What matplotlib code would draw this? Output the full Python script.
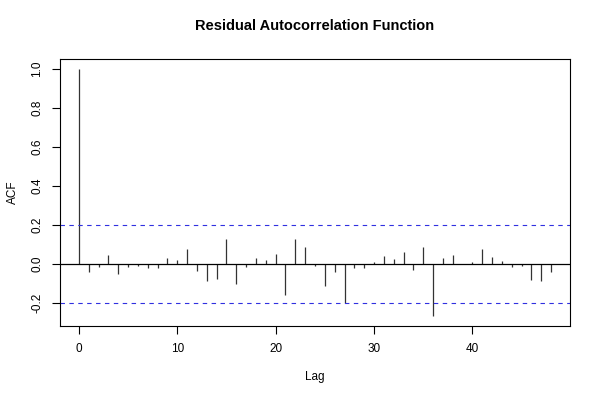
import matplotlib
matplotlib.use("Agg")
import matplotlib.pyplot as plt
import numpy as np

plt.rcParams['font.family'] = ['Liberation Sans', 'DejaVu Sans']

lags = list(range(0, 49))
acf = [1.0, -0.043, -0.015, 0.043, -0.053, -0.015, -0.009, -0.019, -0.021, 0.031,
       0.021, 0.074, -0.038, -0.089, -0.079, 0.125, -0.101, -0.017, 0.031, 0.022,
       0.053, -0.161, 0.125, 0.087, -0.009, -0.115, -0.043, -0.199, -0.019, -0.019,
       0.010, 0.038, 0.026, 0.063, -0.029, 0.089, -0.268, 0.031, 0.046, -0.002,
       0.010, 0.077, 0.033, 0.017, -0.017, -0.009, -0.085, -0.087, -0.043]
conf = 0.2
xticks = [0, 10, 20, 30, 40]
yticks = [-0.2, 0.0, 0.2, 0.4, 0.6, 0.8, 1.0]
title = "Residual Autocorrelation Function"

fig = plt.figure(figsize=(6, 4), dpi=100)
ax = fig.add_axes([0.1, 0.185, 0.85, 0.6675])

ax.vlines(lags, 0, acf, colors='#333333', linewidth=0.9)
ax.axhline(0, color='black', linewidth=0.9)
ax.axhline(conf, color='#3030e0', linestyle=(0, (4, 4)), linewidth=0.8)
ax.axhline(-conf, color='#3030e0', linestyle=(0, (4, 4)), linewidth=0.8)

xr = max(lags) - min(lags)
ax.set_xlim(min(lags) - 0.04 * xr, max(lags) + 0.04 * xr)
yr = max(acf) - min(acf)
ax.set_ylim(min(acf) - 0.04 * yr, max(acf) + 0.04 * yr)

ax.set_xticks(xticks)
ax.set_xticklabels([str(v) for v in xticks])
ax.set_yticks(yticks)
ax.set_yticklabels(["%.1f" % v for v in yticks], rotation=90, va='center')
ax.tick_params(direction='out', length=6, width=0.8, labelsize=8.5, pad=6)

for s in ax.spines.values():
    s.set_linewidth(0.8)

ax.set_xlabel("Lag", fontsize=8.5, labelpad=12)
ax.set_ylabel("ACF", fontsize=8.5, labelpad=9)
fig.text(0.525, 0.935, title, ha='center', va='center', fontsize=10.5, fontweight='bold')

fig.savefig("out.png", dpi=100)
